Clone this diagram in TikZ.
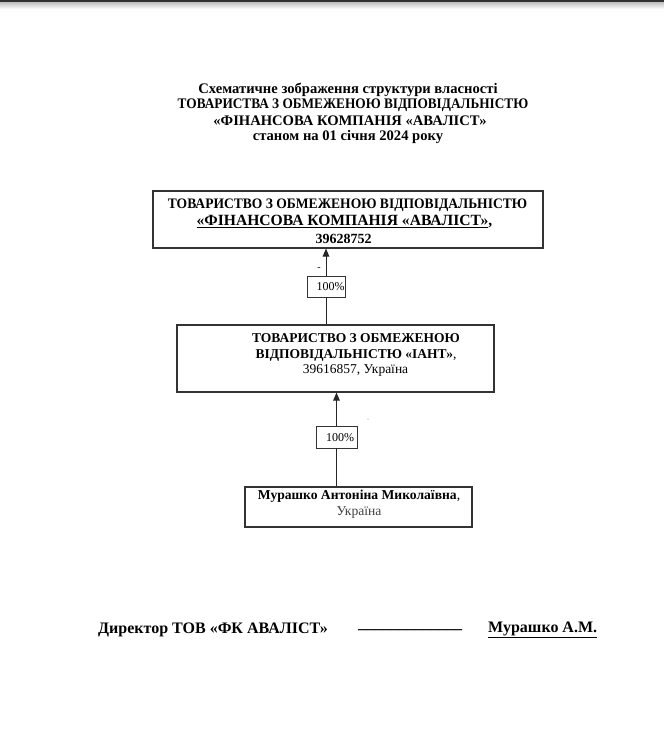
\documentclass[tikz,border=0pt]{standalone}
\usepackage{fontspec}
\setmainfont{Liberation Serif}
\usepackage{tikz}
\usetikzlibrary{arrows.meta}
\usetikzlibrary{positioning}

\tikzset{
  firm/.style={draw=black!80, line width=1.1pt, inner sep=0pt},
  share/.style={draw=black!80, line width=0.9pt, inner sep=0pt},
  txt/.style={inner sep=0pt, anchor=center},
  link/.style={black!85, line width=1pt},
  own/.style={link, -{Triangle[length=8pt,width=6.5pt]}}
}
\newcommand{\fsz}[1]{\fontsize{#1}{#1}\selectfont}

\begin{document}
\begin{tikzpicture}[x=1pt,y=-1pt]
    \useasboundingbox (0,0) rectangle (664,747);
    \fill[white] (0,0) rectangle (664,747);

    % page edge
    \fill[black!80] (0,0) rectangle (664,2);
    \shade[top color=black!25,bottom color=white] (0,2) rectangle (664,9);

    % title
    \node[txt, font=\bfseries\fsz{14.6}] (t1) at (348,90) {Схематичне зображення структури власності};
    \node[txt, font=\bfseries\fsz{14.6}] (t2) at (353,105) {\scalebox{0.91}[1]{ТОВАРИСТВА З ОБМЕЖЕНОЮ ВІДПОВІДАЛЬНІСТЮ}};
    \node[txt, font=\bfseries\fsz{14.6}] (t3) at (350,121) {«ФІНАНСОВА КОМПАНІЯ «АВАЛІСТ»};
    \node[txt, font=\bfseries\fsz{14.6}] (t4) at (348,137) {станом на 01 січня 2024 року};

    % companies
    \node[firm, minimum width=390pt, minimum height=57pt] (fk) at (348,219.5) {};
    \node[txt, font=\bfseries\fsz{14.5}] (fk1) at (347.5,205) {\scalebox{0.935}[1]{ТОВАРИСТВО З ОБМЕЖЕНОЮ ВІДПОВІДАЛЬНІСТЮ}};
    \node[txt, font=\bfseries\fsz{15.6}] (fk2) at (344.5,222) {\underline{«ФІНАНСОВА КОМПАНІЯ «АВАЛІСТ»},};
    \node[txt, font=\bfseries\fsz{14}] (fk3) at (343.5,238.5) {39628752};

    \node[firm, minimum width=317pt, minimum height=67pt] (iant) at (335.5,358.5) {};
    \node[txt, font=\bfseries\fsz{13.5}] (iant1) at (356,338) {ТОВАРИСТВО З ОБМЕЖЕНОЮ};
    \node[txt, font=\fsz{13.5}] (iant2) at (356,355) {\textbf{ВІДПОВІДАЛЬНІСТЮ «ІАНТ»},};
    \node[txt, font=\fsz{13.5}] (iant3) at (355.5,370) {39616857, Україна};

    % owner
    \node[firm, minimum width=227pt, minimum height=40pt] (owner) at (358.5,507) {};
    \node[txt, font=\fsz{13.6}] (owner1) at (359,496) {\textbf{Мурашко Антоніна Миколаївна},};
    \node[txt, font=\fsz{13.6}, text=black!75] (owner2) at (359,512) {Україна};

    % shares
    \node[share, minimum width=38pt, minimum height=21pt] (pa) at (326,286.5) {};
    \node[txt, font=\fsz{12}] (pa1) at (330.5,287) {100\%};
    \node[share, minimum width=41pt, minimum height=22pt] (pb) at (336.5,437) {};
    \node[txt, font=\fsz{12}] (pb1) at (340,437.5) {100\%};

    \draw[own] (pa.north) -- (pa.north |- fk.south);
    \draw[link] (pa.south) -- (pa.south |- iant.north);
    \draw[own] (pb.north) -- (pb.north |- iant.south);
    \draw[link] (pb.south) -- (pb.south |- owner.north);

    % stray marks
    \node[txt, font=\fsz{10}] (dash) at (319,269) {-};
    \fill[black!60] (368,419) circle (0.5pt);

    % signature
    \node[txt, anchor=west, font=\bfseries\fsz{16}] (dir) at (98,630) {Директор ТОВ «ФК АВАЛІСТ»};
    \node[txt, anchor=west, font=\bfseries\fsz{16}] (sign) at (358,630) {\_\_\_\_\_\_\_\_\_\_\_\_\_};
    \node[txt, anchor=west, font=\bfseries\fsz{16}] (name) at (488,630) {\underline{Мурашко А.М.}};
\end{tikzpicture}
\end{document}
